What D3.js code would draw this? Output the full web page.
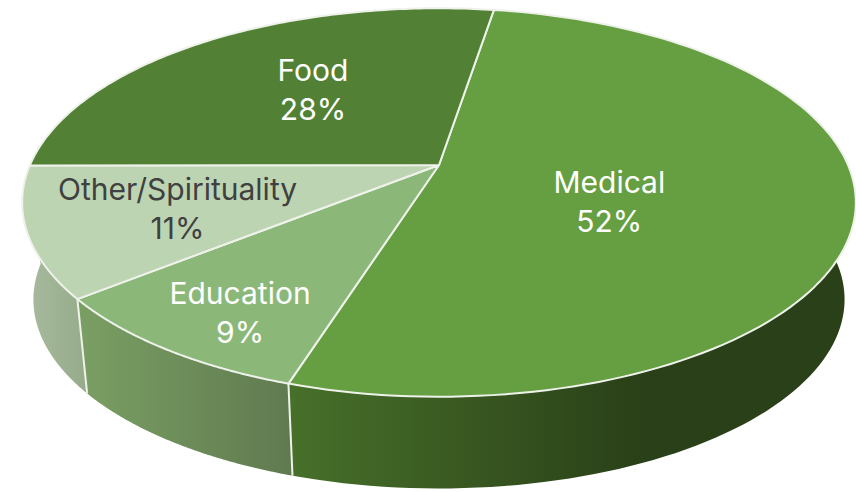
<!DOCTYPE html>
<html>
<head>
<meta charset="utf-8">
<script src="https://cdn.jsdelivr.net/npm/d3@7"></script>
<style>
  html, body { margin: 0; background: #fff; }
  text { font-family: Inter, "Open Sans", sans-serif; font-size: 30px; }
</style>
</head>
<body>
<svg id="pieChart" width="856" height="492"></svg>
<script>
const categories = ["Medical", "Education", "Other/Spirituality", "Food"];
const shares = [52.3, 9.3, 10.8, 27.6];

const topColors = ["#659f42", "#8bb878", "#bdd4b2", "#528135"];
const sideColors = [["#47702a", "#2a4018"], ["#7a9f63", "#607a50"], ["#a9bba0", "#95ab89"], ["#3d6128", "#3d6128"]];
const sideStops = ["62%", "100%", "100%", "100%"];
const labelColors = ["#fff", "#fff", "#404040", "#fff"];
const labelRadius = [0.42, 0.76, 0.65, 0.51];
const labelShift = [10, 5, -8, -17];

const svg = d3.select("#pieChart");
const defs = svg.append("defs");

// flat pie tilted back: disk coords -> screen, near edge is drawn bigger
const apexX = 439, apexY = 165, rx = 409, ry = 187, tilt = 0.193;
const project = (angle, r) => {
  const u = Math.sin(angle) * r;
  const v = -Math.cos(angle) * r;
  const w = 1 - tilt * v;
  return [apexX + rx * u / w, apexY + ry * v / w];
};
// bottom rim is the top rim pushed down and shrunk a little
const midY = 202, depth = 97, shrink = 0.973;
const lower = ([x, y]) => [apexX + (x - apexX) * shrink, midY + depth + (y - midY) * shrink];

const pie = d3.pie().value(d => d).sort(null)
  .startAngle(9.2 * Math.PI / 180)
  .endAngle((360 + 9.2) * Math.PI / 180);
const slices = pie(shares);
const line = d3.line();
const rim = d => d3.range(0, 1.0001, 1 / 120).map(t => project(d.startAngle + (d.endAngle - d.startAngle) * t, 1));
const percent = d3.format(".0f");

slices.forEach((d, i) => {
  const grad = defs.append("linearGradient").attr("id", `side${i}`);
  grad.append("stop").attr("offset", "0%").attr("stop-color", sideColors[i][0]);
  grad.append("stop").attr("offset", sideStops[i]).attr("stop-color", sideColors[i][1]);
});

// walls first, back slice first so the top covers them
const drawOrder = [3, 2, 1, 0];
svg.append("g").selectAll("path")
  .data(drawOrder)
  .join("path")
  .attr("d", i => {
    const top = rim(slices[i]);
    return line(top.concat(top.map(lower).reverse())) + "Z";
  })
  .attr("fill", i => `url(#side${i})`);

// white seams between the walls
svg.append("g").selectAll("path")
  .data([slices[0], slices[1]])
  .join("path")
  .attr("d", d => {
    const p = project(d.endAngle, 1);
    return line([p, lower(p)]);
  })
  .attr("stroke", "#eef2ea")
  .attr("stroke-width", 2)
  .attr("fill", "none");

svg.append("g").selectAll("path")
  .data(slices)
  .join("path")
  .attr("d", d => line([project(0, 0), ...rim(d)]) + "Z")
  .attr("fill", (d, i) => topColors[i])
  .attr("stroke", "#eef2ea")
  .attr("stroke-width", 2)
  .attr("stroke-linejoin", "round");

const labels = svg.append("g").selectAll("text")
  .data(slices)
  .join("text")
  .attr("text-anchor", "middle")
  .attr("fill", (d, i) => labelColors[i])
  .attr("transform", (d, i) => {
    const [x, y] = project((d.startAngle + d.endAngle) / 2, labelRadius[i]);
    return `translate(${x},${y + labelShift[i]})`;
  });

labels.append("tspan").attr("x", 0).attr("y", 0).text((d, i) => categories[i]);
labels.append("tspan").attr("x", 0).attr("y", 39).text(d => `${percent(d.data)}%`);
</script>
</body>
</html>
